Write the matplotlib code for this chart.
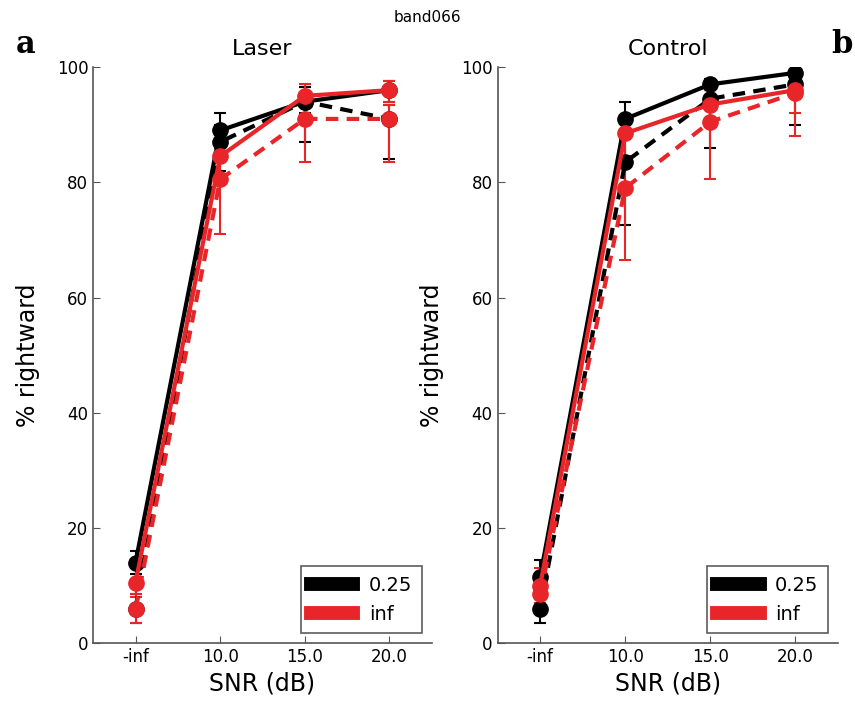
import numpy as np
import matplotlib.pyplot as plt
from matplotlib.lines import Line2D

snr_labels = ['-inf', '10.0', '15.0', '20.0']
x = np.arange(len(snr_labels))

# Laser panel: (mean, lower err, upper err)
laser_k025_solid = [14.0, 89.0, 94.0, 96.0]
laser_k025_solid_lo = [2.0, 3.0, 2.0, 2.0]
laser_k025_solid_hi = [2.0, 3.0, 2.5, 1.5]
laser_k025_dash = [6.0, 87.0, 94.0, 91.0]
laser_k025_dash_lo = [2.5, 5.0, 7.0, 7.0]
laser_k025_dash_hi = [2.5, 3.0, 2.5, 2.5]
laser_inf_solid = [10.5, 84.5, 95.0, 96.0]
laser_inf_solid_lo = [2.5, 4.0, 2.0, 2.0]
laser_inf_solid_hi = [2.5, 3.0, 2.0, 1.5]
laser_inf_dash = [6.0, 80.5, 91.0, 91.0]
laser_inf_dash_lo = [2.5, 9.5, 7.5, 7.5]
laser_inf_dash_hi = [2.5, 4.5, 3.0, 2.5]

# Control panel
ctrl_k025_solid = [11.5, 91.0, 97.0, 99.0]
ctrl_k025_solid_lo = [3.0, 2.5, 1.0, 0.8]
ctrl_k025_solid_hi = [3.0, 3.0, 1.0, 0.5]
ctrl_k025_dash = [6.0, 83.5, 94.5, 97.0]
ctrl_k025_dash_lo = [2.5, 11.0, 8.5, 7.0]
ctrl_k025_dash_hi = [3.0, 4.0, 2.5, 1.5]
ctrl_inf_solid = [10.0, 88.5, 93.5, 96.0]
ctrl_inf_solid_lo = [3.0, 4.0, 3.0, 4.0]
ctrl_inf_solid_hi = [3.0, 3.0, 2.5, 2.0]
ctrl_inf_dash = [8.5, 79.0, 90.5, 95.5]
ctrl_inf_dash_lo = [3.0, 12.5, 10.0, 7.5]
ctrl_inf_dash_hi = [3.0, 5.0, 4.0, 2.5]

red = '#e8262a'
black = 'k'

fig = plt.figure(figsize=(8.55, 7.06), dpi=100)
ax1 = fig.add_axes([0.109, 0.089, 0.396, 0.816])
ax2 = fig.add_axes([0.582, 0.089, 0.398, 0.816])

panels = [
    (ax1, 'Laser', [
        (laser_k025_solid, laser_k025_solid_lo, laser_k025_solid_hi, black, '-'),
        (laser_k025_dash, laser_k025_dash_lo, laser_k025_dash_hi, black, '--'),
        (laser_inf_solid, laser_inf_solid_lo, laser_inf_solid_hi, red, '-'),
        (laser_inf_dash, laser_inf_dash_lo, laser_inf_dash_hi, red, '--'),
    ]),
    (ax2, 'Control', [
        (ctrl_k025_solid, ctrl_k025_solid_lo, ctrl_k025_solid_hi, black, '-'),
        (ctrl_k025_dash, ctrl_k025_dash_lo, ctrl_k025_dash_hi, black, '--'),
        (ctrl_inf_solid, ctrl_inf_solid_lo, ctrl_inf_solid_hi, red, '-'),
        (ctrl_inf_dash, ctrl_inf_dash_lo, ctrl_inf_dash_hi, red, '--'),
    ]),
]

for ax, title, series in panels:
    for y, lo, hi, c, ls in series:
        style = (0, (3, 2)) if ls == '--' else '-'
        ax.errorbar(x, y, yerr=[lo, hi], color=c, lw=3, marker='o', ms=11,
                    mec=c, elinewidth=1.5, capsize=4, capthick=1.5,
                    linestyle=style)
    ax.set_xlim(-0.5, 3.5)
    ax.set_ylim(0, 100)
    ax.set_xticks(x)
    ax.set_xticklabels(snr_labels)
    ax.set_yticks([0, 20, 40, 60, 80, 100])
    ax.tick_params(direction='in', labelsize=12, length=5, color='#555555')
    for s in ['top', 'right']:
        ax.spines[s].set_visible(False)
    for s in ['left', 'bottom']:
        ax.spines[s].set_color('#555555')
        ax.spines[s].set_linewidth(1.2)
    ax.set_title(title, fontsize=16, pad=9)
    ax.set_xlabel('SNR (dB)', fontsize=17, labelpad=4)
    ax.set_ylabel('% rightward', fontsize=17, labelpad=12)
    handles = [Line2D([], [], color=black, lw=10), Line2D([], [], color=red, lw=10)]
    leg = ax.legend(handles, ['0.25', 'inf'], loc='lower right', fontsize=14,
                    fancybox=False, handlelength=2.2, borderpad=0.5)
    leg.get_frame().set_edgecolor('#333333')
    leg.get_frame().set_linewidth(1.2)

fig.text(0.5, 0.975, 'band066', ha='center', va='center', fontsize=11)
fig.text(0.018, 0.925, 'a', fontsize=22, fontweight='bold', family='DejaVu Serif')
fig.text(0.972, 0.925, 'b', fontsize=22, fontweight='bold', family='DejaVu Serif')

fig.savefig('out.png', dpi=100)
